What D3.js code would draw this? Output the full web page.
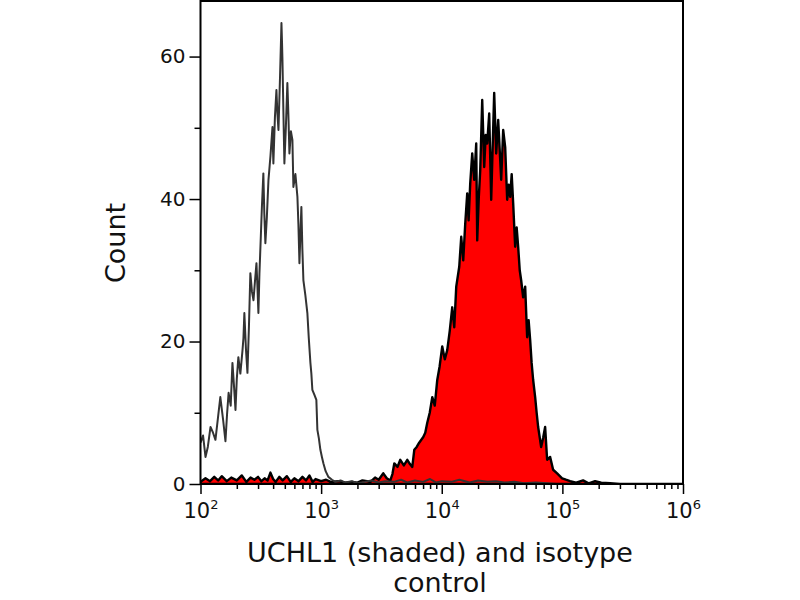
<!DOCTYPE html>
<html>
<head>
<meta charset="utf-8">
<script src="https://cdn.jsdelivr.net/npm/d3@7"></script>
<style>
  body { margin: 0; background: #fff; }
  text { font-family: "DejaVu Sans", sans-serif; fill: #111; }
  .iso { fill: none; stroke: #333; stroke-width: 2; stroke-linejoin: round; }
  .uchl { fill: #ff0000; stroke: #000; stroke-width: 2.4; stroke-linejoin: round; }
</style>
</head>
<body>
<div class="container"></div>
<script>
// isotype control (open histogram)
var isoFluor = [100, 105, 110, 115, 121, 127, 133, 140, 146, 154, 161, 166, 171, 178, 184, 190, 195, 200,
  206, 214, 223, 227, 231, 238, 245, 252, 259, 267, 275, 283, 291, 296, 302, 308, 314, 323, 332, 338,
  345, 355, 366, 380, 395, 398, 402, 414, 426, 434, 443, 456, 469, 474, 478, 487, 496, 510, 525, 535,
  546, 562, 578, 589, 612, 636, 648, 661, 673, 686, 699, 713, 740, 769, 790, 815, 830, 846, 880, 913,
  931, 958, 986, 1015, 1044, 1090, 1148, 1230, 1312, 1450, 1588, 1800, 2000, 2300, 2600, 3000, 3400,
  4000, 4600, 5200, 6000, 7000, 8000, 9000, 10000, 12000, 14000, 17000, 20000, 24000, 28000, 33000,
  40000, 48000, 60000, 75000, 90000, 120000, 150000, 200000, 300000, 500000, 1000000];
var isoCount = [5.8, 6.8, 3.8, 5.2, 8.0, 7.2, 6.2, 9.5, 12.2, 9.0, 6.0, 9.8, 12.8, 11.0, 17.0, 13.5, 10.4, 14.8,
  17.8, 15.5, 18.8, 20.5, 24.0, 19.0, 15.6, 22.0, 29.6, 27.0, 25.8, 28.5, 31.0, 28.0, 24.0, 29.5,
  33.3, 39.0, 43.6, 38.0, 33.8, 37.5, 42.7, 46.0, 50.1, 47.5, 45.0, 51.5, 55.3, 52.0, 49.7, 57.0,
  64.7, 62.0, 59.5, 52.0, 45.0, 50.0, 56.3, 52.0, 46.4, 49.5, 48.3, 41.7, 43.5, 40.3, 36.5, 31.0,
  35.0, 38.9, 33.0, 28.6, 26.5, 24.0, 20.5, 17.0, 15.5, 13.2, 12.5, 11.8, 7.6, 6.4, 4.8, 3.8,
  2.9, 1.8, 1.0, 0.6, 0.3, 0.5, 0.2, 0.4, 0.1, 0.3, 0.5, 0.2, 0.4, 0.3, 0.6, 0.2, 0.5, 0.3, 0.7,
  0.2, 0.4, 0.3, 0.6, 0.2, 0.5, 0.3, 0.4, 0.2, 0.3, 0.1, 0.2, 0.1, 0, 0, 0, 0, 0];

// UCHL1 stained (shaded histogram)
var uchlFluor = [100, 110, 120, 130, 140, 150, 165, 180, 200, 220, 240, 260, 280, 300, 320, 340, 360, 380,
  400, 420, 450, 480, 520, 560, 600, 650, 700, 750, 800, 850, 900, 1000, 1100, 1200, 1400, 1600,
  1800, 2000, 2200, 2400, 2558, 2800, 3000, 3278, 3500, 3746, 3900, 4042, 4300, 4532, 4850, 5180,
  5450, 5698, 5920, 6200, 6500, 7028, 7300, 7585, 7950, 8344, 8750, 9178, 9600, 10095, 10600, 11104,
  11650, 12214, 12700, 13188, 13963, 14506, 15070, 15650, 16264, 16700, 17220, 17890, 18585, 19307,
  19680, 20250, 20840, 21650, 22490, 23150, 23815, 24740, 25700, 26195, 27210, 28270, 29370, 30200,
  31100, 32310, 33565, 34870, 35900, 36930, 38000, 39100, 40620, 41800, 43010, 44300, 45540, 47310,
  49150, 51060, 52500, 54080, 55600, 57260, 59480, 61200, 62990, 66680, 69300, 71960, 74760, 79160,
  83820, 90470, 99520, 107000, 115900, 130000, 148500, 165000, 186700, 210000, 248600, 300000,
  500000, 1000000];
var uchlCount = [0.3, 0.8, 0.4, 1.0, 0.5, 1.1, 0.4, 0.9, 0.5, 1.2, 0.3, 0.9, 0.6, 1.0, 0.4, 0.8, 0.5, 1.6,
  0.7, 0.3, 1.0, 0.5, 1.1, 0.3, 0.8, 0.4, 1.0, 0.5, 1.2, 0.3, 0.7, 0.4, 0.6, 0.3, 0.4, 0.2,
  0.3, 0.2, 0.5, 0.4, 0.3, 0.9, 0.6, 1.5, 0.8, 0.5, 1.4, 2.9, 2.4, 3.4, 2.6, 3.4, 2.8, 2.4,
  4.8, 5.2, 5.8, 6.6, 7.2, 8.6, 10.0, 12.2, 11.0, 14.6, 16.5, 19.3, 17.5, 18.8, 21.5, 24.8, 22.0,
  27.7, 30.5, 34.7, 31.4, 36.5, 40.8, 37.0, 42.2, 46.4, 42.7, 47.8, 34.2, 40.0, 44.0, 53.9, 44.5,
  49.0, 47.8, 52.0, 39.9, 45.0, 54.9, 46.4, 51.1, 47.0, 42.7, 49.7, 47.3, 39.9, 42.0, 40.3, 43.5,
  39.4, 33.3, 36.0, 33.3, 30.0, 28.6, 26.2, 27.7, 20.6, 23.0, 20.2, 17.0, 14.6, 12.2, 10.0, 8.0,
  5.2, 6.5, 8.0, 3.4, 3.8, 2.0, 1.5, 0.8, 0.6, 0.4, 0.2, 0.5, 0.1, 0.4, 0.2, 0.1, 0, 0, 0];

var yTicks = [0, 20, 40, 60];
var yMinorTicks = [10, 30, 50];
var xDecades = [2, 3, 4, 5, 6];

const WIDTH = 800;
const HEIGHT = 600;
const LEFT = 200.5;
const RIGHT = 683;
const TOP = 1;
const BOTTOM = 484;

var xScale = d3.scaleLog()
    .domain([100, 1000000])
    .range([LEFT, RIGHT]);

var yScale = d3.scaleLinear()
    .domain([0, 67.8])
    .range([BOTTOM, TOP]);

var svg = d3.select('.container').append('svg')
    .attr('width', WIDTH)
    .attr('height', HEIGHT);

svg.append('clipPath').attr('id', 'plot')
  .append('rect')
    .attr('x', LEFT).attr('y', TOP)
    .attr('width', RIGHT - LEFT).attr('height', BOTTOM - TOP);

// shaded UCHL1 histogram
var area = d3.area()
    .x((d, i) => xScale(uchlFluor[i]))
    .y0(yScale(0))
    .y1(d => yScale(d));

svg.append('path')
    .attr('clip-path', 'url(#plot)')
    .attr('class', 'uchl')
    .attr('d', area(uchlCount));

// isotype outline
var line = d3.line()
    .x((d, i) => xScale(isoFluor[i]))
    .y(d => yScale(d));

svg.append('path')
    .attr('clip-path', 'url(#plot)')
    .attr('class', 'iso')
    .attr('d', line(isoCount));

// frame
svg.append('rect')
    .attr('x', LEFT).attr('y', TOP)
    .attr('width', RIGHT - LEFT).attr('height', BOTTOM - TOP)
    .attr('fill', 'none')
    .attr('stroke', '#000')
    .attr('stroke-width', 2);

// y axis
var gy = svg.append('g')
    .attr('transform', `translate(${LEFT}, 0)`)
    .call(d3.axisLeft(yScale)
      .tickValues(yTicks)
      .tickSize(11)
      .tickPadding(4)
      .tickFormat(d3.format('d')));
gy.select('.domain').remove();
gy.selectAll('.tick line').attr('stroke-width', 1.5);
gy.selectAll('.tick text').style('font-size', '20px');

var gyMinor = svg.append('g')
    .attr('transform', `translate(${LEFT}, 0)`)
    .call(d3.axisLeft(yScale).tickValues(yMinorTicks).tickSize(6).tickFormat(''));
gyMinor.select('.domain').remove();
gyMinor.selectAll('.tick line').attr('stroke-width', 1.5);

// x axis
var xMinor = [];
xDecades.slice(0, -1).forEach(p => {
  for (let k = 2; k <= 9; k++) xMinor.push(k * Math.pow(10, p));
});

var gxMinor = svg.append('g')
    .attr('transform', `translate(0, ${BOTTOM})`)
    .call(d3.axisBottom(xScale).tickValues(xMinor).tickSize(5).tickFormat(''));
gxMinor.select('.domain').remove();
gxMinor.selectAll('.tick line').attr('stroke-width', 1.5);

var gx = svg.append('g')
    .attr('transform', `translate(0, ${BOTTOM})`)
    .call(d3.axisBottom(xScale)
      .tickValues(xDecades.map(p => Math.pow(10, p)))
      .tickSize(10)
      .tickFormat(''));
gx.select('.domain').remove();
gx.selectAll('.tick line').attr('stroke-width', 1.5);

var xLabels = gx.selectAll('.tick').append('text')
    .attr('y', 34)
    .attr('fill', '#111')
    .attr('text-anchor', 'middle')
    .style('font-size', '21px');
xLabels.append('tspan').text('10');
xLabels.append('tspan')
    .attr('dy', -9)
    .style('font-size', '13px')
    .text((d, i) => xDecades[i]);

// axis titles
svg.append('text')
    .attr('transform', `translate(125, 243) rotate(-90)`)
    .attr('text-anchor', 'middle')
    .style('font-size', '27px')
    .text('Count');

svg.append('text')
    .attr('x', 440).attr('y', 562)
    .attr('text-anchor', 'middle')
    .style('font-size', '27px')
    .text('UCHL1 (shaded) and isotype');

svg.append('text')
    .attr('x', 440).attr('y', 592)
    .attr('text-anchor', 'middle')
    .style('font-size', '27px')
    .text('control');
</script>
</body>
</html>
